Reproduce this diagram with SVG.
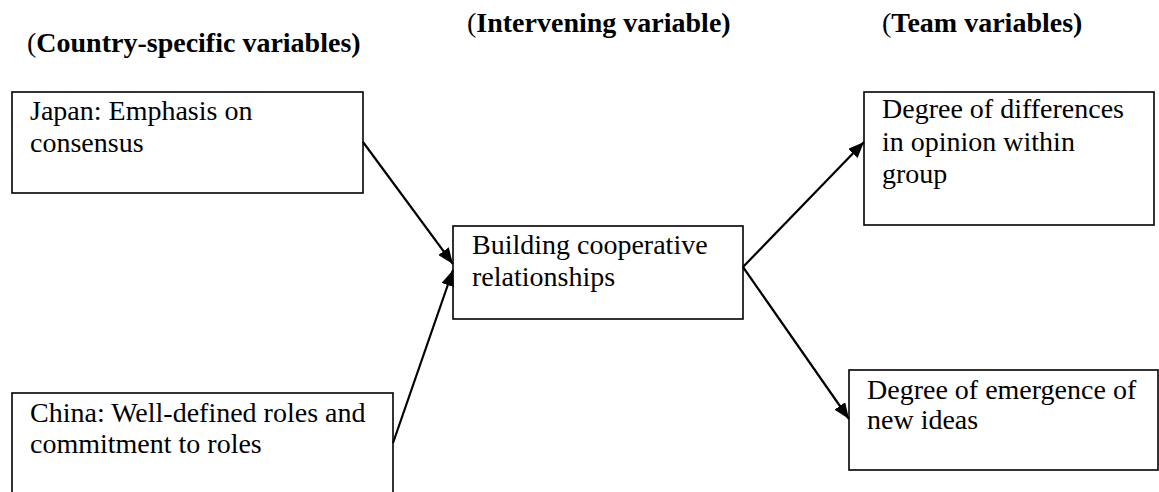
<svg xmlns="http://www.w3.org/2000/svg" width="1159" height="492" viewBox="0 0 1159 492">
<defs>
<style>
.box{fill:#fff;stroke:#000;stroke-width:1.6}
.t{font-family:"Liberation Serif","Times New Roman",serif;font-size:28px;fill:#000}
.h{font-family:"Liberation Serif","Times New Roman",serif;font-size:28px;font-weight:bold;fill:#000}
.n{font-weight:normal}
.c{stroke:#000;stroke-width:2.2;fill:none;marker-end:url(#ah)}
</style>
<marker id="ah" viewBox="0 0 16 13" refX="16" refY="6.5" markerWidth="16" markerHeight="13" markerUnits="userSpaceOnUse" orient="auto">
<path d="M0,0 L16,6.5 L0,13 z" fill="#000"/>
</marker>
</defs>
<rect width="1159" height="492" fill="#fff"/>
<g id="headers">
<text class="h" x="27" y="52"><tspan class="n">(</tspan>Country-specific variables)</text>
<text class="h" x="467" y="32"><tspan class="n">(</tspan>Intervening variable)</text>
<text class="h" x="882" y="32"><tspan class="n">(</tspan>Team variables)</text>
</g>
<g id="japan">
<rect class="box" x="12" y="92" width="351" height="101"/>
<text class="t" x="30" y="120">Japan: Emphasis on</text>
<text class="t" x="30" y="152">consensus</text>
</g>
<g id="china">
<rect class="box" x="12" y="393" width="381" height="110"/>
<text class="t" x="30" y="422">China: Well-defined roles and</text>
<text class="t" x="30" y="453">commitment to roles</text>
</g>
<g id="building">
<rect class="box" x="453" y="226" width="290" height="93"/>
<text class="t" x="472" y="254">Building cooperative</text>
<text class="t" x="472" y="286">relationships</text>
</g>
<g id="differences">
<rect class="box" x="864" y="92" width="290" height="133"/>
<text class="t" x="882" y="118">Degree of differences</text>
<text class="t" x="882" y="151">in opinion within</text>
<text class="t" x="882" y="183">group</text>
</g>
<g id="emergence">
<rect class="box" x="849" y="370" width="309" height="100"/>
<text class="t" x="867" y="399">Degree of emergence of</text>
<text class="t" x="867" y="429">new ideas</text>
</g>
<g id="connectors">
<line class="c" x1="363" y1="142" x2="453" y2="264"/>
<line class="c" x1="393" y1="443" x2="453" y2="270"/>
<line class="c" x1="743" y1="267" x2="864" y2="142"/>
<line class="c" x1="743" y1="267" x2="849" y2="419"/>
</g>
</svg>
